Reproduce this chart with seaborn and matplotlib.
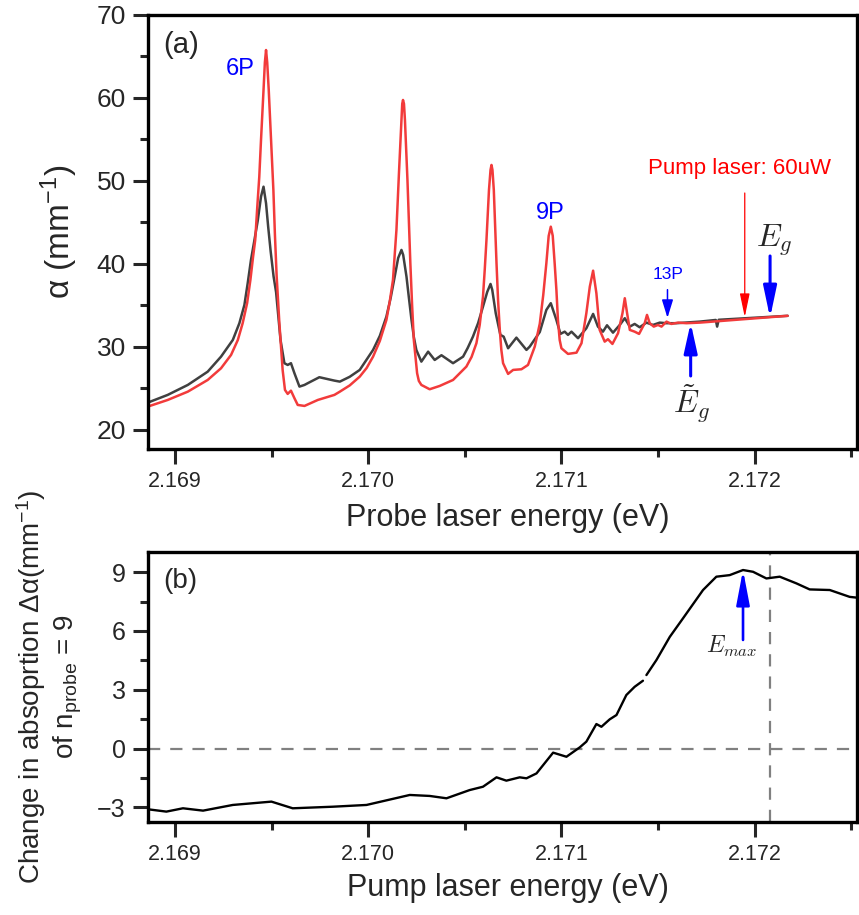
import numpy as np
import pandas as pd
import matplotlib
matplotlib.use("Agg")
import matplotlib.pyplot as plt
import seaborn as sns
from matplotlib.ticker import MultipleLocator, FormatStrFormatter

# ---------------- data ----------------
# Panel (a): absorption vs probe energy, with pump (red) and without (gray)
probe_E_pumped = [2.168859, 2.168962, 2.169066, 2.169169, 2.169238, 2.169290, 2.169325, 2.169350,
                  2.169373, 2.169390, 2.169404, 2.169415, 2.169426, 2.169436, 2.169445, 2.169458,
                  2.169465, 2.169471, 2.169477, 2.169485, 2.169497, 2.169509, 2.169517, 2.169526,
                  2.169540, 2.169557, 2.169569, 2.169583, 2.169600, 2.169618, 2.169635, 2.169670,
                  2.169739, 2.169825, 2.169853, 2.169904, 2.169956, 2.169992, 2.170025, 2.170060,
                  2.170094, 2.170111, 2.170128, 2.170146, 2.170159, 2.170172, 2.170176, 2.170180,
                  2.170185, 2.170190, 2.170203, 2.170218, 2.170227, 2.170236, 2.170253, 2.170262,
                  2.170275, 2.170318, 2.170370, 2.170439, 2.170508, 2.170535, 2.170560, 2.170577,
                  2.170594, 2.170603, 2.170612, 2.170625, 2.170633, 2.170638, 2.170643, 2.170650,
                  2.170664, 2.170672, 2.170681, 2.170689, 2.170698, 2.170724, 2.170750, 2.170793,
                  2.170827, 2.170862, 2.170888, 2.170906, 2.170922, 2.170934, 2.170945, 2.170955,
                  2.170965, 2.170974, 2.170982, 2.170991, 2.171000, 2.171034, 2.171078, 2.171104,
                  2.171129, 2.171147, 2.171164, 2.171181, 2.171198, 2.171224, 2.171241, 2.171264,
                  2.171293, 2.171316, 2.171328, 2.171340, 2.171354, 2.171379, 2.171402, 2.171431,
                  2.171443, 2.171457, 2.171478, 2.171500, 2.171518, 2.171544, 2.171569, 2.171604,
                  2.171647, 2.171716, 2.172171]
alpha_pumped = [22.81, 23.61, 24.61, 26.02, 27.43, 29.04, 30.84, 32.86,
                35.27, 38.07, 40.88, 42.89, 47.00, 50.50, 54.94, 60.96,
                64.30, 65.78, 64.30, 60.96, 54.94, 48.92, 43.50, 38.50,
                32.86, 27.20, 24.82, 24.34, 24.73, 23.82, 23.01, 22.89,
                23.61, 24.22, 24.61, 25.36, 26.42, 27.47, 28.83, 30.72,
                33.25, 35.42, 38.07, 44.10, 50.93, 57.35, 59.30, 59.76,
                59.30, 57.35, 50.12, 40.08, 35.06, 30.84, 26.83, 25.90,
                25.42, 24.90, 25.30, 26.02, 27.63, 28.80, 30.45, 32.65,
                36.06, 39.28, 42.89, 48.92, 51.33, 51.93, 51.33, 48.92,
                40.08, 35.66, 32.05, 29.64, 28.04, 26.75, 27.23, 27.31,
                27.83, 30.04, 32.80, 36.27, 40.08, 43.37, 44.49, 43.40,
                40.08, 36.87, 33.25, 30.84, 29.84, 29.16, 29.31, 30.45,
                34.06, 37.27, 39.19, 36.47, 32.05, 30.64, 30.93, 30.36,
                31.65, 34.06, 35.87, 34.06, 32.05, 31.84, 31.57, 32.86,
                33.86, 32.86, 32.45, 32.65, 32.45, 33.05, 32.77, 32.93,
                32.86, 32.93, 33.75]

probe_E_ref = [2.168859, 2.168962, 2.169066, 2.169169, 2.169238, 2.169299, 2.169333, 2.169359,
               2.169376, 2.169393, 2.169411, 2.169428, 2.169445, 2.169458, 2.169471, 2.169482,
               2.169495, 2.169510, 2.169523, 2.169546, 2.169566, 2.169583, 2.169600, 2.169618,
               2.169644, 2.169670, 2.169687, 2.169747, 2.169825, 2.169853, 2.169904, 2.169956,
               2.170025, 2.170060, 2.170094, 2.170116, 2.170137, 2.170155, 2.170172, 2.170181,
               2.170198, 2.170210, 2.170224, 2.170236, 2.170249, 2.170275, 2.170310, 2.170344,
               2.170379, 2.170439, 2.170491, 2.170515, 2.170542, 2.170569, 2.170594, 2.170616,
               2.170633, 2.170642, 2.170660, 2.170684, 2.170701, 2.170724, 2.170767, 2.170819,
               2.170836, 2.170888, 2.170922, 2.170945, 2.170974, 2.170995, 2.171017, 2.171034,
               2.171052, 2.171086, 2.171129, 2.171164, 2.171189, 2.171215, 2.171236, 2.171267,
               2.171302, 2.171328, 2.171354, 2.171379, 2.171405, 2.171440, 2.171474, 2.171509,
               2.171544, 2.171595, 2.171716, 2.171799, 2.171806, 2.171814, 2.172171]
alpha_ref = [23.29, 24.22, 25.42, 27.02, 28.83, 30.84, 32.86, 35.06,
             37.67, 40.48, 42.89, 45.20, 48.11, 49.31, 47.31, 44.50,
             41.50, 38.50, 36.60, 30.84, 28.04, 27.83, 28.04, 26.83,
             25.22, 25.42, 25.63, 26.35, 25.94, 25.82, 26.40, 27.23,
             29.64, 31.33, 33.65, 35.90, 38.47, 40.72, 41.69, 41.08,
             38.47, 36.02, 33.25, 31.20, 29.64, 28.23, 29.43, 28.43,
             29.00, 28.04, 28.83, 29.88, 31.24, 32.89, 34.86, 36.63,
             37.59, 36.87, 34.06, 31.45, 31.24, 29.84, 31.12, 29.64,
             30.04, 31.80, 34.46, 35.27, 33.25, 31.57, 31.84, 31.45,
             31.84, 31.05, 32.25, 33.98, 32.45, 31.84, 32.61, 31.72,
             32.65, 33.46, 32.45, 32.77, 32.37, 32.93, 32.65, 32.93,
             32.86, 32.86, 33.05, 33.25, 32.45, 33.27, 33.75]

# Panel (b): change in absorption of n=9 vs pump energy (nan = gap in trace)
pump_E = [2.168859, 2.168955, 2.169041, 2.169145, 2.169299, 2.169499, 2.169609, 2.169816,
          2.169991, 2.170215, 2.170318, 2.170405, 2.170525, 2.170594, 2.170664, 2.170715,
          2.170784, 2.170819, 2.170871, 2.170957, 2.171026, 2.171095, 2.171129, 2.171181,
          2.171207, 2.171250, 2.171285, 2.171336, 2.171379, 2.171422, np.nan, 2.171440,
          2.171492, 2.171561, 2.171629, 2.171733, 2.171802, 2.171871, 2.171940, 2.171992,
          2.172061, 2.172130, 2.172216, 2.172285, 2.172389, 2.172492, 2.172539]
delta_alpha = [-3.10, -3.22, -3.05, -3.17, -2.88, -2.71, -3.05, -2.97,
               -2.88, -2.37, -2.42, -2.54, -2.12, -1.95, -1.47, -1.64,
               -1.47, -1.52, -1.27, -0.21, -0.42, 0.06, 0.35, 1.25,
               1.11, 1.49, 1.71, 2.73, 3.15, 3.46, np.nan, 3.75,
               4.52, 5.70, 6.64, 8.09, 8.77, 8.85, 9.11, 9.02,
               8.68, 8.77, 8.43, 8.12, 8.09, 7.74, 7.69]

# Annotation positions (data units)
E_13P = 2.171549
E_pump = 2.171949
E_g = 2.17208
E_g_tilde = 2.171669
E_max = 2.17194

# ---------------- style ----------------
sns.set_style("ticks")
plt.rcParams.update({
    "font.family": ["Liberation Sans", "DejaVu Sans"],
    "mathtext.fontset": "custom",
    "mathtext.rm": "Liberation Sans",
    "mathtext.it": "Liberation Sans:italic",
    "mathtext.bf": "Liberation Sans:bold",
    "axes.linewidth": 2.4,
    "axes.edgecolor": "black",
})

RED = "#f23b3b"
GRAY = "#404040"
BLUE = "#0000ff"

fig = plt.figure(figsize=(8.59, 9.15), dpi=100)
W, H = 859.0, 915.0
ax1 = fig.add_axes([148 / W, 1 - 449 / H, 709 / W, 434 / H])
ax2 = fig.add_axes([148 / W, 1 - 822 / H, 709 / W, 270 / H])

# ---------------- panel (a) ----------------
df_ref = pd.DataFrame({"E": probe_E_ref, "alpha": alpha_ref})
df_pump = pd.DataFrame({"E": probe_E_pumped, "alpha": alpha_pumped})
sns.lineplot(data=df_ref, x="E", y="alpha", ax=ax1, color=GRAY, lw=1.8,
             estimator=None, sort=False)
sns.lineplot(data=df_pump, x="E", y="alpha", ax=ax1, color=RED, lw=1.8,
             estimator=None, sort=False)

ax1.set_xlim(2.16886, 2.17253)
ax1.set_ylim(17.7, 70)
ax1.xaxis.set_major_locator(MultipleLocator(0.001))
ax1.xaxis.set_minor_locator(MultipleLocator(0.0005))
ax1.xaxis.set_major_formatter(FormatStrFormatter("%.3f"))
ax1.yaxis.set_major_locator(MultipleLocator(10))
ax1.yaxis.set_minor_locator(MultipleLocator(5))
ax1.tick_params(axis="both", which="major", direction="out", length=11, width=2.2,
                top=False, right=False)
ax1.tick_params(axis="both", which="minor", direction="out", length=6, width=2.2,
                top=False, right=False)
ax1.tick_params(axis="x", labelsize=15.5, pad=5)
ax1.tick_params(axis="y", labelsize=19, pad=5)
ax1.set_xlabel("Probe laser energy (eV)", fontsize=22)
ax1.xaxis.set_label_coords(0.508, -0.125)
ax1.set_ylabel("α (mm$^{-1}$)", fontsize=24)
ax1.yaxis.set_label_coords(-0.096, 0.5)
for s in ax1.spines.values():
    s.set_linewidth(2.4)

ax1.text(0.021, 0.93, "(a)", transform=ax1.transAxes, fontsize=21,
         ha="left", va="center")
ax1.text(2.169337, 63.46, "6P", color=BLUE, fontsize=17, ha="center", va="center")
ax1.text(2.170943, 46.11, "9P", color=BLUE, fontsize=17, ha="center", va="center")
ax1.text(2.171554, 38.67, "13P", color=BLUE, fontsize=12.5, ha="center", va="center")
ax1.text(2.171924, 51.53, "Pump laser: 60uW", color="red", fontsize=16,
         ha="center", va="center")
ax1.text(2.172009, 42.08, "$E_g$", fontsize=23, ha="left", va="baseline",
         math_fontfamily="cm")
ax1.text(2.171578, 22.01, r"$\tilde{E}_g$", fontsize=23, ha="left", va="baseline",
         math_fontfamily="cm")


def arrow(ax, x, y0, y1, color, lw, hl, hw, ms=20):
    ax.annotate("", xy=(x, y1), xytext=(x, y0),
                arrowprops=dict(arrowstyle=f"-|>,head_length={hl},head_width={hw}",
                                color=color, lw=lw, shrinkA=0, shrinkB=0,
                                mutation_scale=ms))


arrow(ax1, E_13P, 36.9, 33.5, BLUE, 1.1, 0.55, 0.17)
arrow(ax1, E_pump, 48.55, 33.6, "red", 0.9, 0.72, 0.15)
arrow(ax1, E_g, 40.96, 33.5, BLUE, 2.2, 0.95, 0.2)
arrow(ax1, E_g_tilde, 26.5, 32.9, BLUE, 2.2, 0.9, 0.2)

# ---------------- panel (b) ----------------
df_b = pd.DataFrame({"E": pump_E, "d": delta_alpha})
df_b["seg"] = df_b["E"].isna().cumsum()
df_b = df_b.dropna()
ax2.axhline(0, color="#808080", lw=1.6, dashes=(5.5, 4.5), zorder=1)
ax2.axvline(E_g, color="#808080", lw=1.6, dashes=(5.5, 4.5), zorder=1)
sns.lineplot(data=df_b, x="E", y="d", units="seg", estimator=None, sort=False,
             ax=ax2, color="black", lw=1.7, zorder=3)

ax2.set_xlim(2.16886, 2.17253)
ax2.set_ylim(-3.75, 10.03)
ax2.xaxis.set_major_locator(MultipleLocator(0.001))
ax2.xaxis.set_minor_locator(MultipleLocator(0.0005))
ax2.xaxis.set_major_formatter(FormatStrFormatter("%.3f"))
ax2.yaxis.set_major_locator(MultipleLocator(3))
ax2.yaxis.set_minor_locator(MultipleLocator(1.5))
ax2.tick_params(axis="both", which="major", direction="out", length=11, width=2.2,
                top=False, right=False)
ax2.tick_params(axis="both", which="minor", direction="out", length=6, width=2.2,
                top=False, right=False)
ax2.tick_params(axis="x", labelsize=15.5, pad=5)
ax2.tick_params(axis="y", labelsize=18, pad=5)
ax2.set_xlabel("Pump laser energy (eV)", fontsize=22)
ax2.xaxis.set_label_coords(0.508, -0.19)
ax2.set_ylabel("Change in absoprtion Δα(mm$^{-1}$)\nof n$_{\\mathregular{probe}}$ = 9",
               fontsize=20)
ax2.yaxis.set_label_coords(-0.09, 0.5)
for s in ax2.spines.values():
    s.set_linewidth(2.4)

ax2.text(0.021, 0.893, "(b)", transform=ax2.transAxes, fontsize=20,
         ha="left", va="center")
arrow(ax2, E_max, 5.54, 9.11, BLUE, 1.9, 1.05, 0.2)
ax2.text(2.171747, 4.86, "$E_{max}$", fontsize=17, ha="left", va="baseline",
         math_fontfamily="cm")

fig.savefig("out.png", dpi=100)
